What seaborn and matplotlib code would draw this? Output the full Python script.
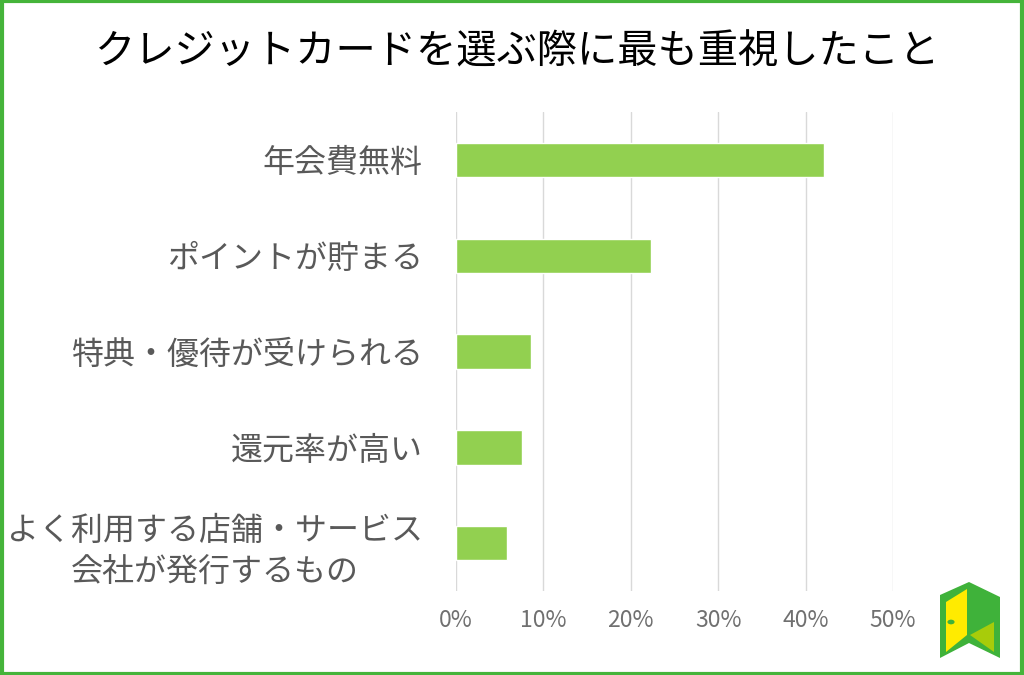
import matplotlib
matplotlib.use('Agg')
import matplotlib.pyplot as plt
import seaborn as sns
import pandas as pd
from matplotlib.patches import Rectangle, Polygon, Circle

# data
items = ['年会費無料', 'ポイントが貯まる', '特典・優待が受けられる', '還元率が高い',
         'よく利用する店舗・サービス\n会社が発行するもの']
share = [42.1, 22.3, 8.6, 7.5, 5.8]
xticks = [0, 10, 20, 30, 40, 50]
xtick_labels = ['0%', '10%', '20%', '30%', '40%', '50%']

df = pd.DataFrame({'item': items, 'share': share})

sns.set_style('whitegrid')
plt.rcParams['font.family'] = ['Noto Sans CJK JP', 'DejaVu Sans']

fig = plt.figure(figsize=(10.24, 6.75), dpi=100)
ax = fig.add_axes([0.4453, 0.1244, 0.4268, 0.7096])

sns.barplot(data=df, x='share', y='item', orient='h', color='#92D050',
            saturation=1, width=0.36, ax=ax)

ax.set_xlim(0, 50)
ax.set_xticks(xticks)
ax.set_xticklabels(xtick_labels, fontsize=16.5, color='#707070')
ax.set_yticklabels(items, fontsize=23, color='#595959', multialignment='center',
                   linespacing=1.35)
ax.tick_params(axis='y', pad=24, length=0)
ax.tick_params(axis='x', pad=13, length=0)
ax.set_xlabel('')
ax.set_ylabel('')
ax.grid(axis='x', color='#D9D9D9', linewidth=1.0)
ax.grid(axis='y', visible=False)
for s in ax.spines.values():
    s.set_visible(False)

fig.text(0.505, 0.923, 'クレジットカードを選ぶ際に最も重視したこと', ha='center', va='center',
         fontsize=29, color='black')

# green frame
fig.patches.append(Rectangle((0.0015, 0.002), 0.997, 0.996, transform=fig.transFigure,
                             fill=False, edgecolor='#45B43A', linewidth=3))

# small door logo in the corner
def px(x, y):
    return (x / 1024, 1 - y / 675)

logo_parts = [
    ([(940, 595), (969, 582), (1000, 597), (1000, 658), (969, 643), (940, 658)], '#3FB23A'),
    ([(946, 602), (967, 589), (967, 635), (946, 652)], '#FFEB00'),
    ([(970, 635), (994, 622), (994, 652)], '#A8CC0A'),
]
for pts, col in logo_parts:
    fig.patches.append(Polygon([px(*p) for p in pts], closed=True, transform=fig.transFigure,
                               facecolor=col, edgecolor='none'))
fig.patches.append(Circle(px(951, 622), 0.0035, transform=fig.transFigure,
                          facecolor='#3FB23A', edgecolor='none'))

fig.savefig('out.png', dpi=100, facecolor='white')
